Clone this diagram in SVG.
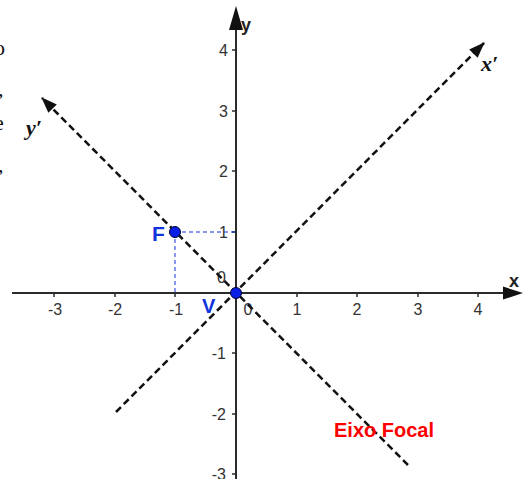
<svg xmlns="http://www.w3.org/2000/svg" width="524" height="479" viewBox="0 0 524 479">
<style>
.axis{stroke:#2b2b2b;stroke-width:2;fill:none}
.tick{stroke:#2b2b2b;stroke-width:1.5}
.num{font-family:"Liberation Sans",Arial,sans-serif;font-size:16px;fill:#333}
.dash{stroke:#111;stroke-width:2.5;stroke-dasharray:7 4;fill:none}
.blue{stroke:#1133dd;stroke-width:1;stroke-dasharray:4 3;fill:none}
.pt{fill:#0a1fe6;stroke:#000033;stroke-width:1}
.ser{font-family:"Liberation Serif","Times New Roman",serif;font-size:22px;fill:#111}
.ax{font-family:"Liberation Sans",Arial,sans-serif;font-size:18px;font-weight:bold;fill:#222}
.prime{font-family:"Liberation Serif","Times New Roman",serif;font-style:italic;font-weight:bold;font-size:22px;fill:#111}
</style>
<defs>
<marker id="ah" markerWidth="16" markerHeight="12" refX="15" refY="6" orient="auto" markerUnits="userSpaceOnUse" viewBox="0 0 16 12"><path d="M0,0 L16,6 L0,12 Z" fill="#111"/></marker>
</defs>
<rect width="524" height="479" fill="#fff"/>
<!-- cropped text fragments from surrounding page -->
<g id="fragments" class="ser">
<text x="-6" y="55">o</text>
<text x="-2" y="96">,</text>
<text x="-6" y="130">e</text>
<text x="-2" y="172">,</text>
</g>
<!-- axes -->
<g id="axes">
<line class="axis" x1="12" y1="293" x2="506" y2="293"/>
<path d="M503,286.5 L523,293 L503,299.5 Z" fill="#111"/>
<line class="axis" x1="236" y1="479" x2="236" y2="28"/>
<path d="M229,30 L236,6 L243,30 Z" fill="#111"/>
<g>
<line class="tick" x1="54" y1="293" x2="54" y2="297"/>
<line class="tick" x1="115" y1="293" x2="115" y2="297"/>
<line class="tick" x1="175" y1="293" x2="175" y2="297"/>
<line class="tick" x1="297" y1="293" x2="297" y2="297"/>
<line class="tick" x1="357" y1="293" x2="357" y2="297"/>
<line class="tick" x1="418" y1="293" x2="418" y2="297"/>
<line class="tick" x1="478" y1="293" x2="478" y2="297"/>
<line class="tick" x1="232" y1="50" x2="236" y2="50"/>
<line class="tick" x1="232" y1="111" x2="236" y2="111"/>
<line class="tick" x1="232" y1="171" x2="236" y2="171"/>
<line class="tick" x1="232" y1="232" x2="236" y2="232"/>
<line class="tick" x1="232" y1="353" x2="236" y2="353"/>
<line class="tick" x1="232" y1="414" x2="236" y2="414"/>
<line class="tick" x1="232" y1="474" x2="236" y2="474"/>
</g>
<g class="num" text-anchor="middle">
<text x="55" y="315">-3</text>
<text x="115" y="315">-2</text>
<text x="176" y="315">-1</text>
<text x="248" y="315">0</text>
<text x="297" y="315">1</text>
<text x="357" y="315">2</text>
<text x="418" y="315">3</text>
<text x="478" y="315">4</text>
</g>
<g class="num" text-anchor="end">
<text x="228" y="56">4</text>
<text x="228" y="117">3</text>
<text x="228" y="177">2</text>
<text x="228" y="238">1</text>
<text x="226" y="283">0</text>
<text x="226" y="359">-1</text>
<text x="226" y="420">-2</text>
<text x="226" y="480">-3</text>
</g>
<text class="ax" x="509" y="287">x</text>
<text class="ax" x="241" y="31">y</text>
</g>
<!-- connectors: rotated axes and projections -->
<g id="connectors">
<line class="dash" x1="116" y1="412" x2="484" y2="43" marker-end="url(#ah)"/>
<line class="dash" x1="408" y1="465" x2="42" y2="98" marker-end="url(#ah)"/>
<line class="blue" x1="175" y1="232" x2="236" y2="232"/>
<line class="blue" x1="175" y1="232" x2="175" y2="293"/>
</g>
<text class="prime" x="481" y="71">x′</text>
<text class="prime" x="26" y="135">y′</text>
<g id="nodeF">
<circle class="pt" cx="175" cy="232" r="5.5"/>
<text x="152" y="241" font-family="'Liberation Sans',Arial,sans-serif" font-size="21" font-weight="bold" fill="#1133dd">F</text>
</g>
<g id="nodeV">
<circle class="pt" cx="236" cy="293" r="5.5"/>
<text x="202" y="313" font-family="'Liberation Sans',Arial,sans-serif" font-size="20" font-weight="bold" fill="#1133dd">V</text>
</g>
<g id="label-eixo">
<text x="334" y="437" font-family="'Liberation Sans',Arial,sans-serif" font-size="20" font-weight="bold" fill="#ff0000">Eixo Focal</text>
</g>
</svg>
